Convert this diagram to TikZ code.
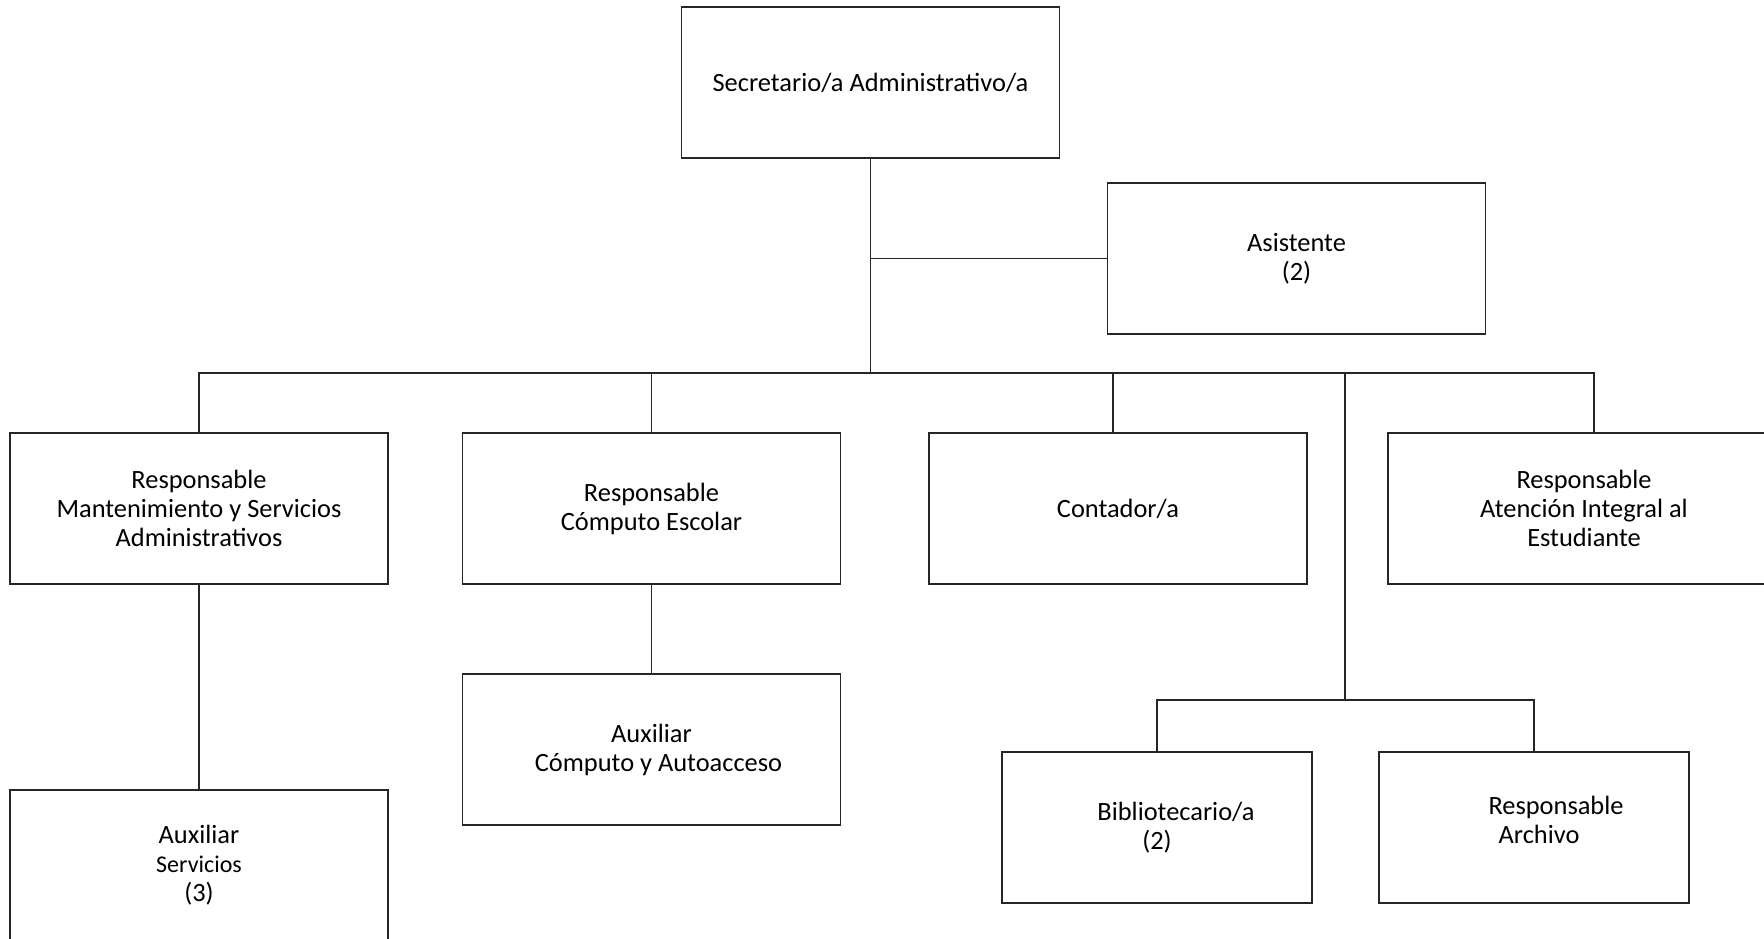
\documentclass[tikz,border=0pt]{standalone}
\usepackage{fontspec}
\setmainfont{Carlito}
\usepackage{tikz}

\tikzset{
  puesto/.style={draw=black!85, line width=0.7pt, minimum width=189pt, minimum height=75.5pt,
    inner sep=0pt, align=center, font=\fontsize{13.2}{14.5}\selectfont},
  puestochico/.style={puesto, minimum width=155pt},
  linea/.style={draw=black!85, line width=0.6pt}
}

\begin{document}
\begin{tikzpicture}[x=0.5pt, y=-0.5pt]
	\useasboundingbox (0,0) rectangle (1764,938);
	
	% Secretaria
	\node[puesto] (secre) at (870.5,82.5) {Secretario/a Administrativo/a};
	\node[puesto] (asist) at (1296.5,258.5) {Asistente\\(2)};
	
	% Responsables
	\node[puesto] (mant) at (199,508.5) {Responsable\\Mantenimiento y Servicios\\Administrativos};
	\node[puesto] (compu) at (651.5,508.5) {Responsable\\Cómputo Escolar};
	\node[puesto] (conta) at (1118,508.5) {Contador/a};
	\node[puesto, minimum width=196pt] (atenc) at (1584,508.5) {Responsable\\Atención Integral al\\Estudiante};
	
	% Auxiliares
	\node[puesto] (auxserv) at (199,865.5) {Auxiliar\\{\fontsize{12}{14.5}\selectfont Servicios}\\(3)};
	\node[puesto] (auxcomp) at (651.5,749.5) {Auxiliar\\\hspace*{7pt}Cómputo y Autoacceso};
	\node[puestochico] (biblio) at (1157,827.5) {\hspace*{19pt}Bibliotecario/a\\(2)};
	\node[puestochico] (archivo) at (1534,827.5) {\hspace*{22pt}Responsable\\\hspace*{5pt}Archivo\rule[-7.5pt]{0pt}{7.5pt}};
	
	% Lineas
	\coordinate (bus) at (870.5,373);
	\coordinate (ramal) at (1345,373);
	\coordinate (bus2) at (1345,700);
	\coordinate (atentop) at ([xshift=5pt]atenc.north);
	\coordinate (contatop) at ([xshift=-2.5pt]conta.north);
	
	\draw[linea] (secre.south) -- (bus);
	\draw[linea] (secre.south |- asist.west) -- (asist.west);
	\draw[linea] (mant.north) |- (atentop |- bus) -- (atentop);
	\draw[linea] (compu.north) -- (compu.north |- bus);
	\draw[linea] (contatop) -- (contatop |- bus);
	\draw[linea] (ramal) -- (bus2);
	\draw[linea] (biblio.north) |- (archivo.north |- bus2) -- (archivo.north);
	\draw[linea] (mant.south) -- (auxserv.north);
	\draw[linea] (compu.south) -- (auxcomp.north);
\end{tikzpicture}
\end{document}
